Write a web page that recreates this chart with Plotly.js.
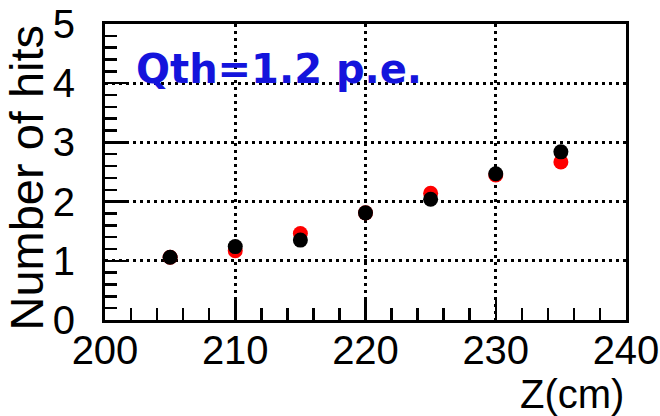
<!DOCTYPE html>
<html><head><meta charset="utf-8">
<script src="https://cdn.plot.ly/plotly-3.0.1.min.js"></script>
<style>html,body{margin:0;padding:0;background:#fff}#g{width:660px;height:416px}</style>
</head><body><div id="g"></div>
<script>
const zPos = [205, 210, 215, 220, 225, 230, 235];
const hitsRed = [1.06, 1.17, 1.46, 1.81, 2.14, 2.45, 2.67];
const hitsBlack = [1.06, 1.24, 1.35, 1.81, 2.04, 2.47, 2.84];
const xTicks = [200, 210, 220, 230, 240];
const yTicks = [0, 1, 2, 3, 4, 5];
const labelText = 'Qth=1.2 p.e.';
const xTitle = 'Z(cm)';
const yTitle = 'Number of hits';

const font = 'Liberation Sans, Arial, sans-serif';
const traces = [
  {x: zPos, y: hitsRed, type: 'scatter', mode: 'markers',
   marker: {color: '#ff0000', size: 15}, hoverinfo: 'none'},
  {x: zPos, y: hitsBlack, type: 'scatter', mode: 'markers',
   marker: {color: '#000000', size: 15}, hoverinfo: 'none'}
];
const axisCommon = {
  showline: true, mirror: true, linecolor: 'black', linewidth: 3,
  ticks: 'inside', tickcolor: 'black', tickwidth: 2.5, ticklen: 23,
  showgrid: true, gridcolor: 'black', gridwidth: 3, griddash: '3px,4px',
  zeroline: false, tickfont: {family: font, size: 40, color: 'black'}
};
const layout = {
  width: 660, height: 416,
  margin: {l: 105, r: 34, t: 24, b: 96},
  paper_bgcolor: 'white', plot_bgcolor: 'white',
  showlegend: false,
  xaxis: Object.assign({}, axisCommon, {
    range: [200, 240], tickvals: xTicks, ticktext: xTicks.map(String),
    ticklabelstandoff: -7,
    minor: {dtick: 2, ticks: 'inside', ticklen: 12, tickcolor: 'black', tickwidth: 2.5, showgrid: false}
  }),
  yaxis: Object.assign({}, axisCommon, {
    range: [0, 5], tickvals: yTicks, ticktext: yTicks.map(String),
    ticklabelstandoff: 19,
    minor: {dtick: 0.2, ticks: 'inside', ticklen: 12, tickcolor: 'black', tickwidth: 2.5, showgrid: false}
  }),
  annotations: [
    {text: labelText, xref: 'paper', yref: 'paper', x: 0.055, y: 0.775, yshift: -3,
     xanchor: 'left', yanchor: 'bottom', showarrow: false,
     font: {family: 'DejaVu Sans, sans-serif', size: 40, color: '#1414dc', weight: 'bold'}},
    {text: xTitle, xref: 'paper', yref: 'paper', x: 1, y: 0, yshift: -50,
     xanchor: 'right', yanchor: 'top', showarrow: false,
     font: {family: font, size: 40, color: 'black'}},
    {text: yTitle, xref: 'paper', yref: 'paper', x: 0, xshift: -51, y: 1, yshift: 1,
     xanchor: 'right', yanchor: 'top', textangle: -90, showarrow: false,
     font: {family: font, size: 47, color: 'black'}}
  ]
};
Plotly.newPlot('g', traces, layout, {staticPlot: true});
</script></body></html>
